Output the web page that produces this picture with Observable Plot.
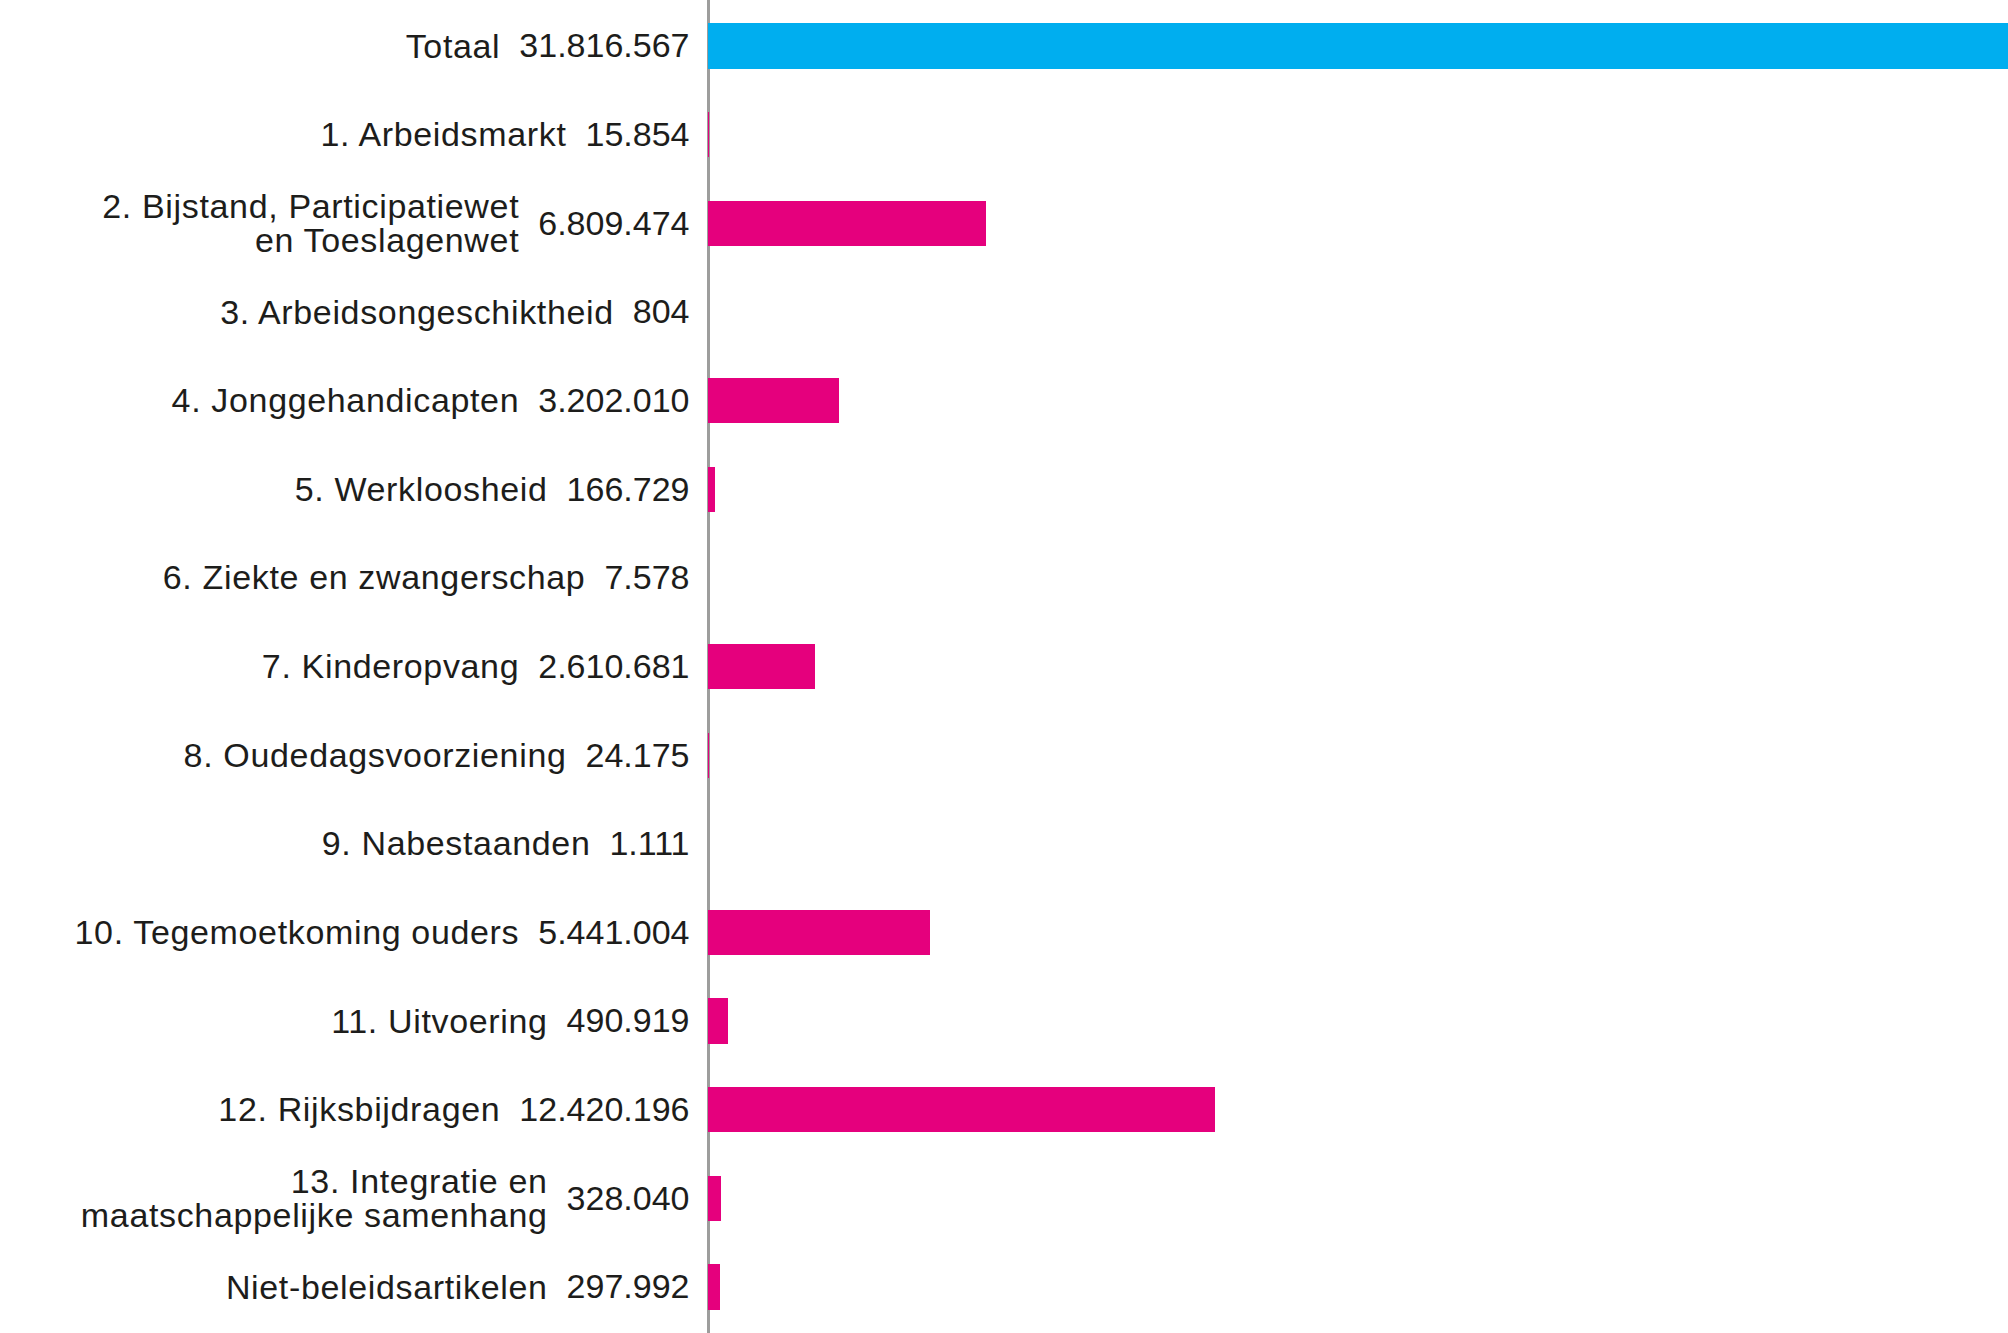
<!DOCTYPE html>
<html>
<head>
<meta charset="utf-8">
<script src="https://cdn.jsdelivr.net/npm/d3@7"></script>
<script src="https://cdn.jsdelivr.net/npm/@observablehq/plot@0.6"></script>
<style>
  html, body { margin: 0; padding: 0; background: #fff; }
  svg { display: block; }
</style>
</head>
<body>
<div id="chart"></div>
<script>
// ---- data ----
const categories = [
  "Totaal",
  "1. Arbeidsmarkt",
  "2. Bijstand, Participatiewet\nen Toeslagenwet",
  "3. Arbeidsongeschiktheid",
  "4. Jonggehandicapten",
  "5. Werkloosheid",
  "6. Ziekte en zwangerschap",
  "7. Kinderopvang",
  "8. Oudedagsvoorziening",
  "9. Nabestaanden",
  "10. Tegemoetkoming ouders",
  "11. Uitvoering",
  "12. Rijksbijdragen",
  "13. Integratie en\nmaatschappelijke samenhang",
  "Niet-beleidsartikelen"
];
const values = [
  31816567, 15854, 6809474, 804, 3202010, 166729, 7578, 2610681,
  24175, 1111, 5441004, 490919, 12420196, 328040, 297992
];
const groups = [
  "totaal", "artikel", "artikel", "artikel", "artikel", "artikel", "artikel", "artikel",
  "artikel", "artikel", "artikel", "artikel", "artikel", "artikel", "artikel"
];

// ---- build table ----
const nl = d3.formatLocale({decimal: ",", thousands: ".", grouping: [3], currency: ["€", ""]});
const fmt = nl.format(",d");
const data = categories.map((c, i) => ({name: c, value: values[i], group: groups[i], label: fmt(values[i])}));

const FONT = 34;
const FAMILY = "'Liberation Sans', Arial, sans-serif";
const svg = Plot.plot({
  width: 2008,
  height: 1333,
  marginLeft: 708,
  marginRight: 0,
  marginTop: 0,
  marginBottom: 0,
  style: {fontFamily: FAMILY, color: "#1d1d1b", background: "#fff"},
  x: {domain: [0, 31816567], axis: null},
  y: {domain: categories, axis: null, paddingInner: 0.49, paddingOuter: 0.265, round: false},
  color: {domain: ["totaal", "artikel"], range: ["#00aeef", "#e5007d"]},
  marks: [
    Plot.ruleX([0], {stroke: "#9d9d9c", strokeWidth: 3}),
    Plot.barX(data, {x: "value", y: "name", fill: "group", shapeRendering: "crispEdges"}),
    Plot.text(data, {
      y: "name", text: "label", frameAnchor: "left", textAnchor: "end",
      dx: -19, fontSize: FONT, fill: "#1d1d1b"
    }),
    Plot.text(data, {
      y: "name", text: "name", frameAnchor: "left", textAnchor: "end",
      dx: -19, fontSize: FONT, lineHeight: 1.02, fill: "#1d1d1b"
    })
  ]
});
document.getElementById("chart").appendChild(svg);

// shift category names left of their value labels
const ctx = document.createElement("canvas").getContext("2d");
ctx.font = `${FONT}px ${FAMILY}`;
const texts = Array.from(svg.querySelectorAll("text"));
const n = data.length;
const valNodes = texts.slice(0, n);
const nameNodes = texts.slice(n, 2 * n);
data.forEach((d, i) => {
  let w = 0;
  try { w = valNodes[i].getComputedTextLength(); } catch (e) { w = 0; }
  if (!w) w = ctx.measureText(d.label).width;
  const node = nameNodes[i];
  if (!node) return;
  node.style.letterSpacing = "0.65px";
  const old = node.getAttribute("transform");
  const shift = `translate(${-(w + 19)},0)`;
  node.setAttribute("transform", old ? `${old} ${shift}` : shift);
});
</script>
</body>
</html>
